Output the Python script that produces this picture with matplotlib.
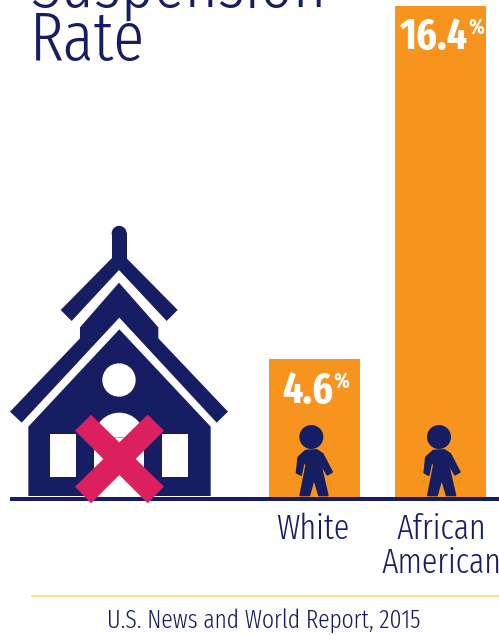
import matplotlib
matplotlib.use("Agg")
import matplotlib.pyplot as plt
from matplotlib.patches import Polygon, Circle, Rectangle, Wedge

categories = ["White", "African\nAmerican"]
rates = [4.6, 16.4]
title = "Suspension\nRate"
source = "U.S. News and World Report, 2015"

NAVY = "#171D62"
ORANGE = "#F7941D"
PINK = "#DC1F5E"
YELLOW = "#FFDD66"
W, H = 499, 635
NARROW = ["Fira Sans Extra Condensed", "Liberation Sans Narrow", "Roboto", "DejaVu Sans"]

fig = plt.figure(figsize=(W / 100, H / 100), dpi=100, facecolor="white")

# bar panel: pixel extents of the plot area
L, R, T, B = 269, 486, 6, 497
ax = fig.add_axes([L / W, 1 - B / H, (R - L) / W, (B - T) / H])
ax.bar(range(len(rates)), rates, width=0.722, color=ORANGE, linewidth=0)
ax.set_xlim(-0.361, 1.361)
ax.set_ylim(0, max(rates))
ax.axis("off")
for i, v in enumerate(rates):
    label = ax.annotate(f"{v}", (i, v), xytext=(-5, -23), textcoords="offset points",
                        ha="center", va="center", color="white", fontsize=31,
                        fontweight="bold", family=NARROW, annotation_clip=False)
    ax.annotate("%", xy=(1, 1), xycoords=label, xytext=(0.5, -1), textcoords="offset points",
                ha="left", va="top", color="white", fontsize=15.5,
                fontweight="bold", family=NARROW, annotation_clip=False)

# overlay in pixel coordinates for the illustration and text
ov = fig.add_axes([0, 0, 1, 1])
ov.set_xlim(0, W)
ov.set_ylim(H, 0)
ov.axis("off")
ov.patch.set_alpha(0)


def school(points):
    return [(x / 3, 220 + y / 3) for x, y in points]


ov.add_patch(Rectangle((10, 496.5), 489, 4.5, color=NAVY, lw=0, zorder=2))
ov.add_patch(Rectangle((335 / 3, 220 + 40 / 3), 45 / 3, 100 / 3, color=NAVY, lw=0, zorder=2))
ov.add_patch(Circle((357.5 / 3, 220 + 40 / 3), 22.5 / 3, color=NAVY, lw=0, zorder=2))
ov.add_patch(Polygon(school([(335, 115), (182, 270), (215, 303), (357, 150), (500, 303),
                             (533, 270), (380, 115)]), color=NAVY, lw=0, zorder=2))
ov.add_patch(Polygon(school([(357, 188), (240, 322), (240, 355), (30, 575), (65, 608),
                             (358, 293), (650, 608), (684, 575), (475, 355), (475, 322)]),
                     color=NAVY, lw=0, zorder=2))
ov.add_patch(Polygon(school([(358, 328), (632, 620), (632, 828), (85, 828), (85, 620)]),
                     color=NAVY, lw=0, zorder=2))
ov.add_patch(Circle((357 / 3, 220 + 480 / 3), 50 / 3, color="white", lw=0, zorder=3))
for x0, x1 in [(149, 227), (486, 563)]:
    ov.add_patch(Rectangle((x0 / 3, 220 + 641 / 3), (x1 - x0) / 3, 129 / 3,
                           color="white", lw=0, zorder=3))
ov.add_patch(Rectangle((283 / 3, 220 + 653 / 3), 150 / 3, 175 / 3, color="white", lw=0, zorder=3))
ov.add_patch(Wedge((358 / 3, 220 + 653 / 3), 75 / 3, 180, 360, color="white", lw=0, zorder=3))
ov.add_patch(Polygon(school([(273, 584), (225, 632), (310, 717), (225, 800), (273, 850),
                             (358, 765), (443, 850), (492, 800), (407, 717), (492, 632),
                             (443, 584), (358, 667)]), color=PINK, lw=0, zorder=4))

person = [(137, 302), (170, 300), (188, 312), (216, 366), (202, 374), (180, 336),
          (203, 436), (177, 436), (162, 385), (148, 436), (121, 436), (139, 345),
          (132, 333), (123, 375), (110, 368), (115, 322)]
for dx in (0, 383):
    ov.add_patch(Polygon([((260 * 3 + x + dx) / 3, 350 + y / 3) for x, y in person],
                         facecolor=NAVY, edgecolor=NAVY, lw=1.4, joinstyle="round", zorder=3))
    ov.add_patch(Circle(((260 * 3 + 154 + dx) / 3, 350 + 261 / 3), 36 / 3,
                        color=NAVY, lw=0, zorder=3))

ov.text(30, 60, title.split("\n")[1], color=NAVY, fontsize=50, family=NARROW,
        fontweight=300, ha="left", va="baseline")
ov.text(30, 7, title.split("\n")[0], color=NAVY, fontsize=50, family=NARROW,
        fontweight=300, ha="left", va="baseline")
ov.text(313, 539, categories[0], color=NAVY, fontsize=25, family=NARROW, fontweight=300,
        ha="center", va="baseline")
ov.text(441, 539, categories[1].split("\n")[0], color=NAVY, fontsize=25, family=NARROW,
        fontweight=300, ha="center", va="baseline")
ov.text(441, 573, categories[1].split("\n")[1], color=NAVY, fontsize=25, family=NARROW,
        fontweight=300, ha="center", va="baseline")
ov.plot([32, 499], [596, 596], color=YELLOW, lw=1.2)
ov.text(264, 621, source, color=NAVY, fontsize=18.4, family=NARROW, fontweight=300,
        ha="center", va="center")

fig.savefig("out.png", dpi=100)
